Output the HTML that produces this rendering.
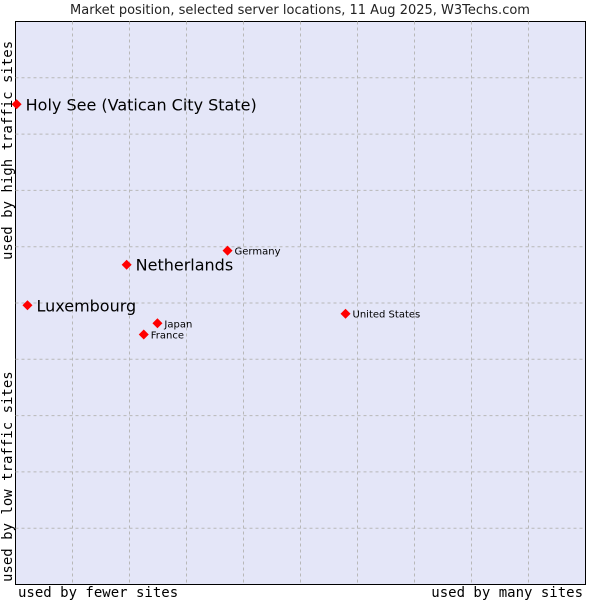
<!DOCTYPE html>
<html><head><meta charset="utf-8"><style>
body{margin:0;background:#fff;}
svg{display:block;font-family:"DejaVu Sans","Liberation Sans",sans-serif;}
</style></head><body>
<svg id="chart" width="600" height="600" viewBox="0 0 600 600">
<text x="300" y="14" text-anchor="middle" font-size="13" fill="#222">Market position, selected server locations, 11 Aug 2025, W3Techs.com</text>
<rect x="15.5" y="21.5" width="570" height="563" fill="#e4e6f8" stroke="#000" stroke-width="1"/>
<g id="grid"></g>
<g id="points"></g>
<text x="18" y="597" font-family="DejaVu Sans Mono,Liberation Mono,monospace" font-size="14" fill="#000">used by fewer sites</text>
<text x="583" y="597" text-anchor="end" font-family="DejaVu Sans Mono,Liberation Mono,monospace" font-size="14" fill="#000">used by many sites</text>
<text transform="translate(12,582) rotate(-90)" font-family="DejaVu Sans Mono,Liberation Mono,monospace" font-size="14" fill="#000">used by low traffic sites</text>
<text transform="translate(12,260) rotate(-90)" font-family="DejaVu Sans Mono,Liberation Mono,monospace" font-size="14" fill="#000">used by high traffic sites</text>
</svg>
<script>
const names = ["Holy See (Vatican City State)","Netherlands","Luxembourg","Germany","Japan","France","United States"];
const xValues = [0.2,19.5,2.1,37.2,24.9,22.5,57.9];
const yValues = [85.3,56.8,49.6,59.3,46.4,44.4,48.1];
const highlighted = [true,true,true,false,false,false,false];
const NS="http://www.w3.org/2000/svg";
const L=15.5,T=21.5,W=570,H=563;
const sx=v=>L+v/100*W, sy=v=>T+H-v/100*H;
const grid=document.getElementById('grid');
for(let i=1;i<10;i++){
  const a=document.createElementNS(NS,'line');
  
  
  const x=sx(i*10);
  a.setAttribute('x1',x);a.setAttribute('x2',x);a.setAttribute('y1',T);a.setAttribute('y2',T+H);
  a.setAttribute('stroke','#b8b8b8');a.setAttribute('stroke-dasharray','3,3');
  grid.appendChild(a);
  const b=document.createElementNS(NS,'line');
  
  
  const y=sy(i*10);
  b.setAttribute('x1',L);b.setAttribute('x2',L+W);b.setAttribute('y1',y);b.setAttribute('y2',y);
  b.setAttribute('stroke','#b8b8b8');b.setAttribute('stroke-dasharray','3,3');
  grid.appendChild(b);
}
const pts=document.getElementById('points');
names.forEach((n,i)=>{
  const x=sx(xValues[i]),y=sy(yValues[i]);
  const p=document.createElementNS(NS,'polygon');
  
  
  p.setAttribute('points',`${x},${y-5} ${x+5},${y} ${x},${y+5} ${x-5},${y}`);
  p.setAttribute('fill','#ff0000');
  pts.appendChild(p);
  const t=document.createElementNS(NS,'text');
  
  
  const big=highlighted[i];
  t.setAttribute('x',x+(big?9:7));
  t.setAttribute('y',y+(big?6:4));
  t.setAttribute('font-size',big?16:10);
  t.setAttribute('fill','#000');
  t.textContent=n;
  pts.appendChild(t);
});
</script>
</body></html>
